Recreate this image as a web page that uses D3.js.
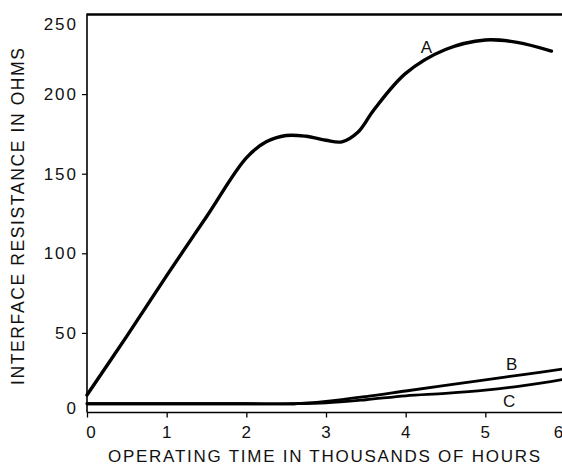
<!DOCTYPE html>
<html><head><meta charset="utf-8">
<script src="https://cdn.jsdelivr.net/npm/d3@7"></script>
<style>
html,body{margin:0;padding:0;background:#fff;}
svg{display:block;}
text{font-family:"Liberation Sans",Arial,sans-serif;fill:#111;}
</style></head>
<body>
<svg id="c" width="562" height="466"></svg>
<script>
// Data (thousands of hours, ohms)
const seriesA_x = [0, 0.5, 1, 1.5, 2, 2.25, 2.5, 2.75, 3.0, 3.2, 3.4, 3.6, 4.0, 4.5, 5.0, 5.4, 5.83];
const seriesA_y = [11, 48, 86, 123, 160, 170, 174, 173.5, 171, 170, 176, 190, 213, 228, 234, 232.5, 227];
const seriesB_x = [0, 1, 2, 2.6, 3.0, 3.5, 4.0, 4.5, 5.0, 5.5, 6.0];
const seriesB_y = [5.5, 5.5, 5.5, 5.5, 7, 10, 13.5, 17, 20.5, 24, 27.5];
const seriesC_x = [0, 1, 2, 2.6, 3.0, 3.5, 4.0, 4.5, 5.0, 5.5, 6.0];
const seriesC_y = [5.5, 5.5, 5.5, 5.5, 6, 8, 10.5, 12, 14, 17, 21];
const xTicks = [0, 1, 2, 3, 4, 5, 6];
const yTicks = [0, 50, 100, 150, 200, 250];
const curveNames = ["A", "B", "C"];
const curveLabelX = [4.26, 5.33, 5.3];
const curveLabelY = [226, 26.5, 3.3];
const xTitle = "OPERATING TIME IN THOUSANDS OF HOURS";
const yTitle = "INTERFACE RESISTANCE IN OHMS";

const svg = d3.select("#c");
const x = d3.scaleLinear().domain([0, 6]).range([87, 565]);
const y = d3.scaleLinear().domain([0, 250]).range([412.5, 14.5]);

// frame lines
svg.append("line").attr("x1", x(0)).attr("x2", 562).attr("y1", y(250)).attr("y2", y(250))
  .attr("stroke", "#000").attr("stroke-width", 2.6);
svg.append("line").attr("x1", x(0)).attr("x2", x(0)).attr("y1", y(250) - 1).attr("y2", y(0))
  .attr("stroke", "#000").attr("stroke-width", 1.6);
svg.append("line").attr("x1", x(0)).attr("x2", 562).attr("y1", y(0)).attr("y2", y(0))
  .attr("stroke", "#000").attr("stroke-width", 1.3);

// x axis
const xAxis = d3.axisBottom(x).tickValues(xTicks).tickSize(5).tickPadding(8).tickFormat(d3.format("d"));
const gx = svg.append("g").attr("transform", `translate(0,${y(0)})`).call(xAxis);
gx.select(".domain").remove();
gx.selectAll(".tick line").attr("stroke", "#000").attr("stroke-width", 1.3);
gx.selectAll(".tick text").attr("font-size", 17).attr("fill", "#111")
  .style("letter-spacing", (d) => d === 6 ? "0px" : "1px")
  .attr("dx", (d) => d === 0 ? 4 : d === 6 ? -7 : 0);

// y axis
const yAxis = d3.axisLeft(y).tickValues(yTicks).tickSize(5).tickPadding(4).tickFormat(d3.format("d"));
const gy = svg.append("g").attr("transform", `translate(${x(0)},0)`).call(yAxis);
gy.select(".domain").remove();
gy.selectAll(".tick line").attr("stroke", "#000").attr("stroke-width", 1.2)
  .attr("opacity", (d) => (d === 0 || d === 250) ? 0 : 1);
gy.selectAll(".tick text").attr("font-size", 17).attr("fill", "#111").style("letter-spacing", "2px")
  .attr("dy", (d) => d === 250 ? "0.9em" : d === 0 ? "0.05em" : "0.32em");

// curves
const line = d3.line().x((d) => x(d[0])).y((d) => y(d[1])).curve(d3.curveCatmullRom.alpha(0.5));
const series = [
  d3.zip(seriesA_x, seriesA_y),
  d3.zip(seriesB_x, seriesB_y),
  d3.zip(seriesC_x, seriesC_y)
];
svg.append("g").selectAll("path").data(series).join("path")
  .attr("d", line).attr("fill", "none").attr("stroke", "#000")
  .attr("stroke-width", (d, i) => i === 0 ? 3.4 : 2.8).attr("stroke-linecap", "round");

// curve labels
svg.append("g").selectAll("text").data(curveNames).join("text")
  .attr("x", (d, i) => x(curveLabelX[i])).attr("y", (d, i) => y(curveLabelY[i]))
  .attr("text-anchor", "middle").attr("font-size", 17).text((d) => d);

// titles
svg.append("text").attr("x", 324).attr("y", 462).attr("text-anchor", "middle")
  .attr("font-size", 17).attr("textLength", 432).attr("lengthAdjust", "spacing").text(xTitle);
svg.append("text").attr("transform", "translate(24,216.5) rotate(-90)").attr("text-anchor", "middle")
  .attr("font-size", 17.5).attr("textLength", 337).attr("lengthAdjust", "spacing").text(yTitle);
</script>
</body></html>
